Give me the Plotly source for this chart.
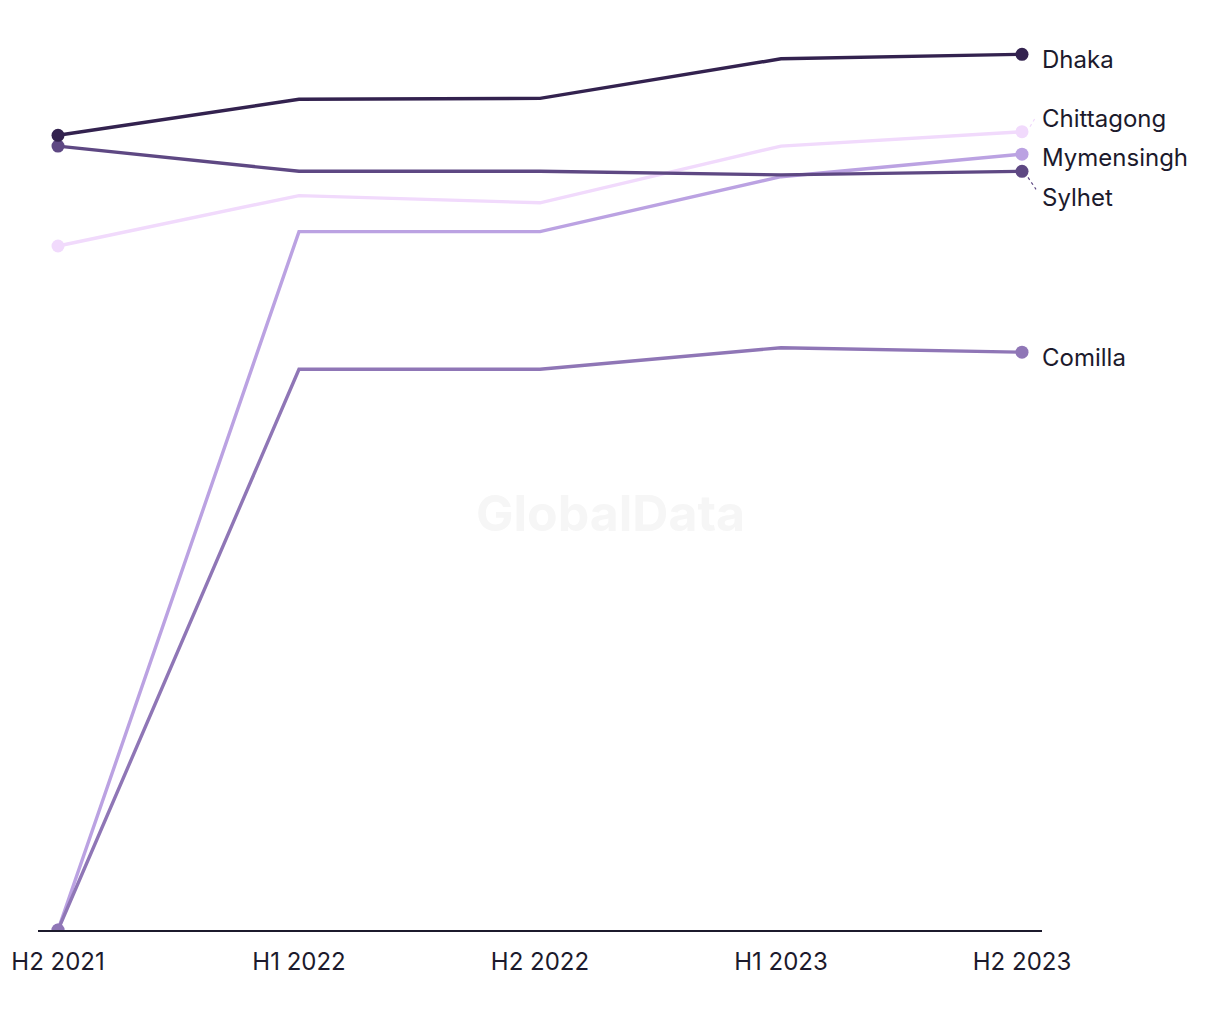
import plotly.graph_objects as go

periods = ["H2 2021", "H1 2022", "H2 2022", "H1 2023", "H2 2023"]
series_names = ["Chittagong", "Mymensingh", "Sylhet", "Dhaka", "Comilla"]
dhaka = [88.3, 92.3, 92.4, 96.8, 97.3]
sylhet = [87.1, 84.3, 84.3, 83.9, 84.3]
chittagong = [76.0, 81.6, 80.8, 87.1, 88.7]
mymensingh = [0.0, 77.6, 77.6, 83.7, 86.2]
comilla = [0.0, 62.3, 62.3, 64.7, 64.2]

values = {
    "Dhaka": dhaka,
    "Sylhet": sylhet,
    "Chittagong": chittagong,
    "Mymensingh": mymensingh,
    "Comilla": comilla,
}
colors = {
    "Dhaka": "#33224f",
    "Sylhet": "#5e4883",
    "Chittagong": "#f1dafc",
    "Mymensingh": "#bba2e2",
    "Comilla": "#8f76b6",
}
# label vertical pixel offsets (positive = up)
label_shift = {"Dhaka": -5, "Chittagong": 13, "Mymensingh": -3, "Sylhet": -26, "Comilla": -5}

FONT = "Inter, Roboto, sans-serif"
xs = list(range(len(periods)))
fig = go.Figure()
for name in series_names:
    v = values[name]
    n = len(v)
    fig.add_trace(go.Scatter(
        x=xs, y=v, mode="lines+markers", name=name,
        line=dict(color=colors[name], width=3.4),
        marker=dict(color=colors[name], opacity=1, size=[13] + [0] * (n - 2) + [13],
                    line=dict(width=0)),
        hoverinfo="skip", showlegend=False,
    ))

annotations = []
shapes = []
for name in series_names:
    v = values[name][-1]
    annotations.append(dict(
        x=xs[-1], y=v, xref="x", yref="y", text=name, showarrow=False,
        xanchor="left", yanchor="middle", xshift=18, yshift=label_shift[name],
        font=dict(family=FONT, size=24, color="#1c1a2c"),
    ))
# leader lines
shapes.append(dict(type="line", xref="x", yref="y", xsizemode="pixel", ysizemode="pixel",
                   xanchor=xs[-1], yanchor=values["Chittagong"][-1],
                   x0=8, x1=14, y0=5, y1=15,
                   line=dict(color=colors["Chittagong"], width=1.2, dash="dot")))
shapes.append(dict(type="line", xref="x", yref="y", xsizemode="pixel", ysizemode="pixel",
                   xanchor=xs[-1], yanchor=values["Sylhet"][-1],
                   x0=6, x1=14, y0=-6, y1=-18,
                   line=dict(color=colors["Sylhet"], width=1.2, dash="dot")))

annotations.append(dict(
    x=0.57, y=0.5, xref="paper", yref="paper", text="<b>GlobalData</b>", showarrow=False,
    font=dict(family=FONT, size=50, color="#f6f6f6"),
    xanchor="center", yanchor="middle", yshift=-33,
))

fig.update_layout(
    width=1220, height=1020,
    margin=dict(l=38, r=178, t=30, b=90),
    paper_bgcolor="white", plot_bgcolor="white",
    annotations=annotations, shapes=shapes,
    xaxis=dict(
        range=[-0.083, 4.083], tickvals=xs, ticktext=periods,
        showgrid=False, zeroline=False, showline=True, linecolor="#1c1a2c", linewidth=2,
        ticks="", tickfont=dict(family=FONT, size=24, color="#1c1a2c"),
        ticklabelstandoff=9,
    ),
    yaxis=dict(range=[0, 100], visible=False, showgrid=False, zeroline=False),
)
fig.layout.annotations = tuple(reversed(fig.layout.annotations))
fig.write_html("out.html")
